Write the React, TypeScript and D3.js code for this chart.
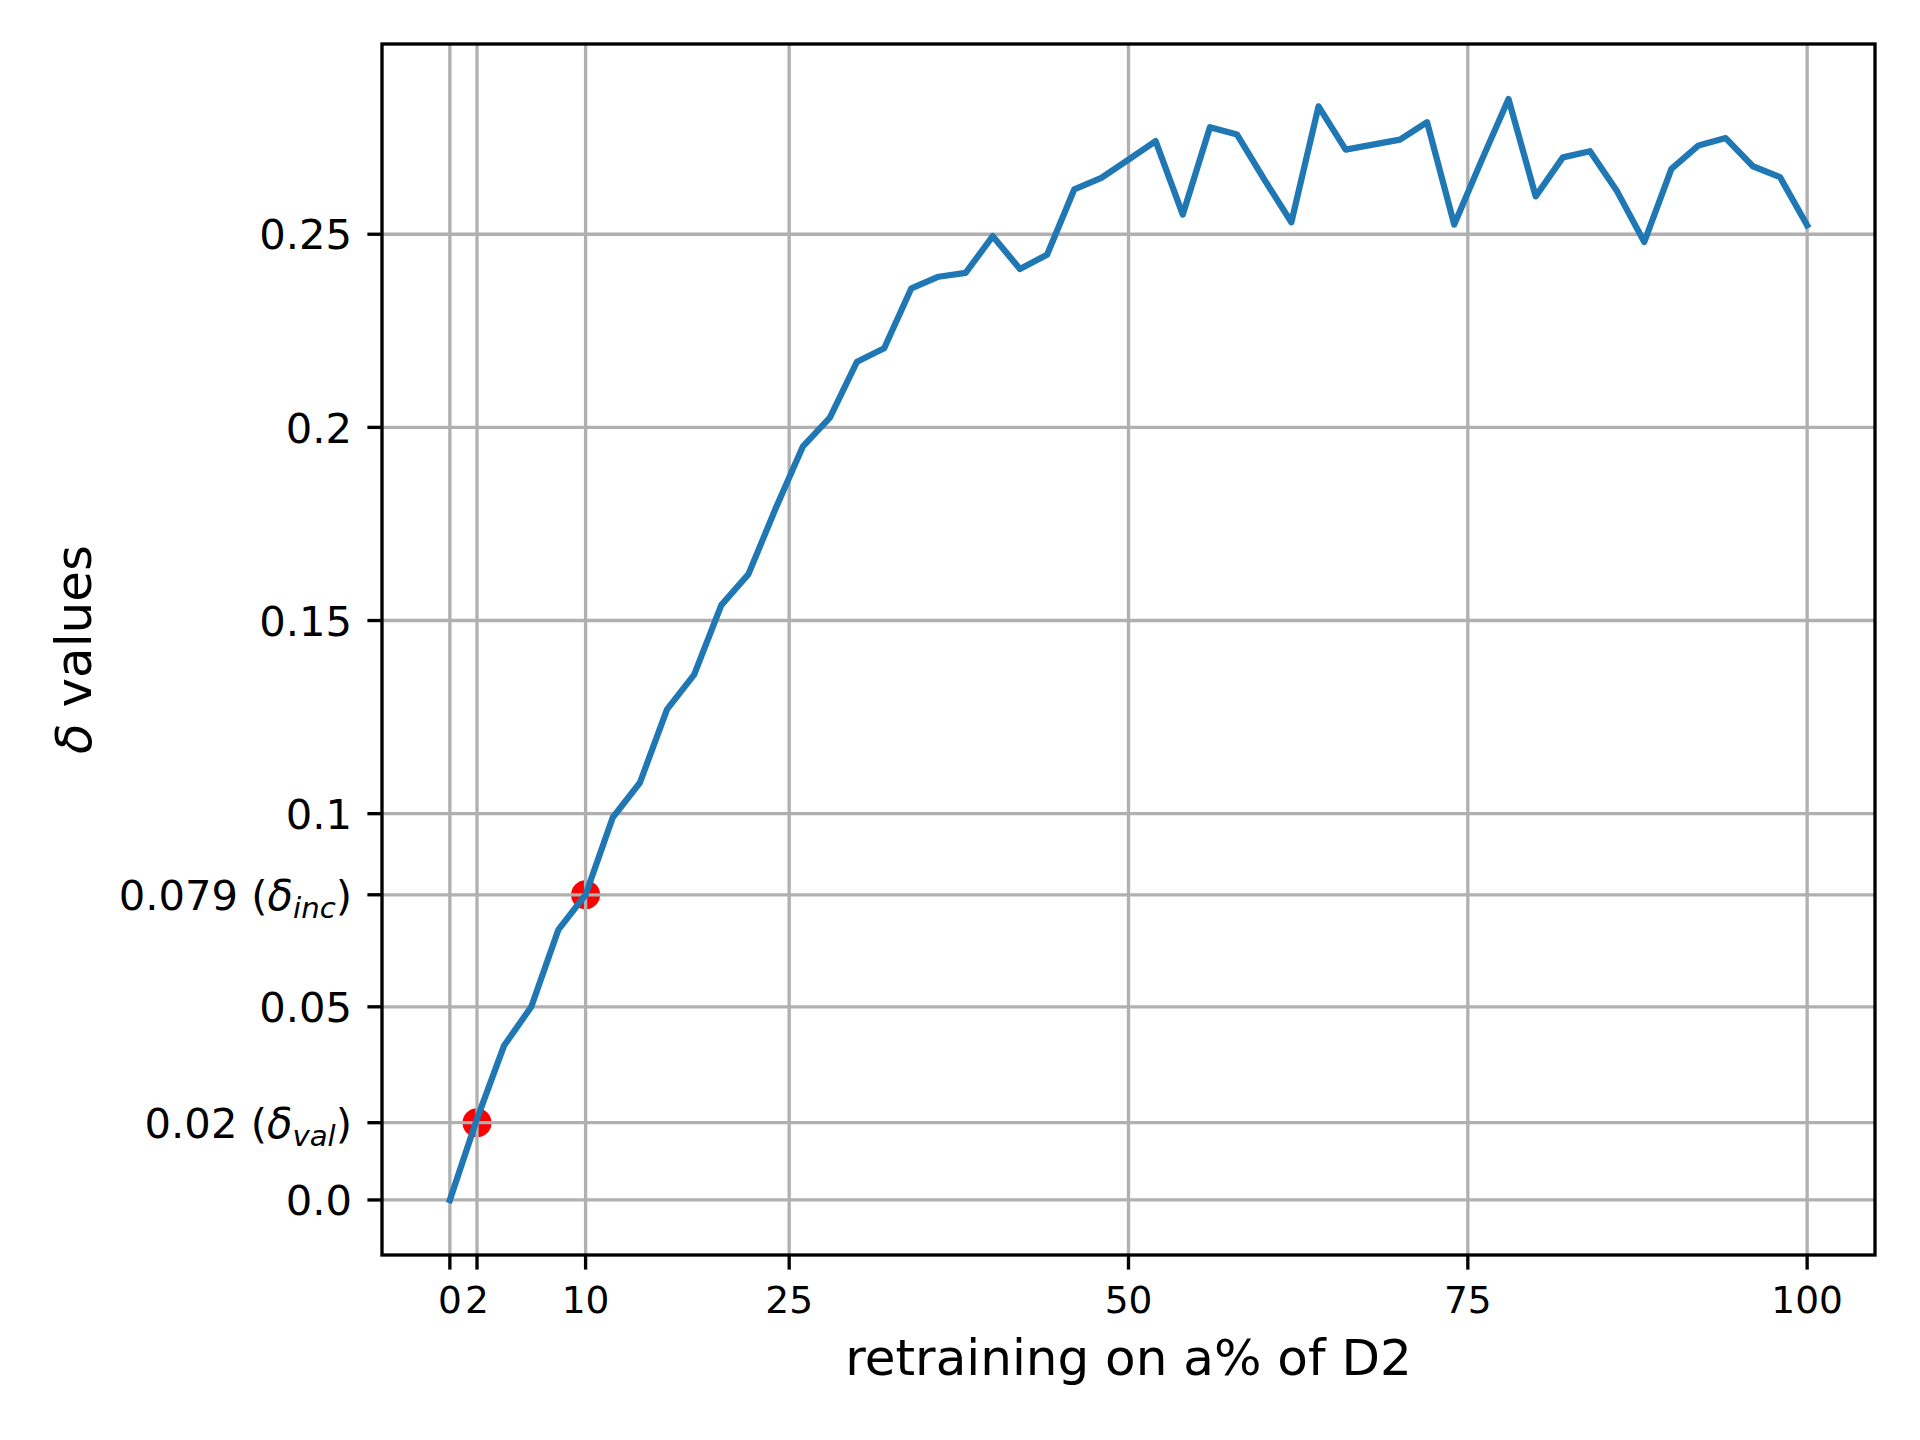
import * as d3 from "d3";

// percentage of D2 used for retraining
const percents = [
  0, 2, 4, 6, 8, 10, 12, 14, 16, 18, 20, 22, 24, 26, 28, 30, 32, 34, 36, 38, 40,
  42, 44, 46, 48, 50, 52, 54, 56, 58, 60, 62, 64, 66, 68, 70, 72, 74, 76, 78, 80,
  82, 84, 86, 88, 90, 92, 94, 96, 98, 100,
];
const deltas = [
  0, 0.021, 0.04, 0.05, 0.07, 0.079, 0.099, 0.108, 0.127, 0.136, 0.154, 0.162,
  0.179, 0.195, 0.2025, 0.217, 0.2205, 0.236, 0.239, 0.24, 0.2495, 0.241, 0.2447,
  0.2616, 0.2646, 0.2693, 0.2741, 0.2551, 0.2777, 0.2758, 0.2642, 0.2531, 0.2831,
  0.2719, 0.2732, 0.2745, 0.279, 0.2525, 0.269, 0.285, 0.2598, 0.2699, 0.2715,
  0.2611, 0.248, 0.2669, 0.273, 0.2749, 0.2676, 0.2648, 0.2523,
];
const markX = [2, 10];
const markY = [0.02, 0.079];
const xTicks = [0, 2, 10, 25, 50, 75, 100];
const yTicks = [0, 0.02, 0.05, 0.079, 0.1, 0.15, 0.2, 0.25];
const yTickText = ["0.0", "0.02", "0.05", "0.079", "0.1", "0.15", "0.2", "0.25"];
const ySubs: (string | null)[] = [null, "val", null, "inc", null, null, null, null];

const W = 1920;
const H = 1440;
const left = 382;
const right = 1875;
const top = 44;
const bottom = 1255;
const lw = 3.33;
const font = "DejaVu Sans";

function pad(ext: [number, number]): [number, number] {
  const m = (ext[1] - ext[0]) * 0.05;
  return [ext[0] - m, ext[1] + m];
}

export default function App() {
  const x = d3.scaleLinear(pad(d3.extent(percents) as [number, number]), [left, right]);
  const y = d3.scaleLinear(pad(d3.extent(deltas) as [number, number]), [bottom, top]);
  const line = d3
    .line<number>()
    .x((_d, i) => x(percents[i]))
    .y((d) => y(d));
  const fsY = 41.7;
  const fsX = 37.5;
  const fsL = 50;

  return (
    <svg
      width={W}
      height={H}
      style={{ position: "absolute", left: 0, top: 0, background: "#fff" }}
      fontFamily={font}
    >
      <rect width={W} height={H} fill="#fff" />
      {/* red markers for the chosen thresholds */}
      <g fill="red">
        {markX.map((m, i) => (
          <circle key={i} cx={x(m)} cy={y(markY[i])} r={14.5} />
        ))}
      </g>
      {/* grid */}
      <g stroke="#b0b0b0" strokeWidth={lw}>
        {xTicks.map((t) => (
          <line key={"gx" + t} x1={x(t)} x2={x(t)} y1={top} y2={bottom} />
        ))}
        {yTicks.map((t) => (
          <line key={"gy" + t} x1={left} x2={right} y1={y(t)} y2={y(t)} />
        ))}
      </g>
      <path d={line(deltas) || ""} fill="none" stroke="#1f77b4" strokeWidth={6.25} strokeLinejoin="round" strokeLinecap="square" />
      {/* ticks */}
      <g stroke="#000" strokeWidth={lw}>
        {xTicks.map((t) => (
          <line key={"tx" + t} x1={x(t)} x2={x(t)} y1={bottom} y2={bottom + 14.6} />
        ))}
        {yTicks.map((t) => (
          <line key={"ty" + t} x1={left - 14.6} x2={left} y1={y(t)} y2={y(t)} />
        ))}
      </g>
      <rect x={left} y={top} width={right - left} height={bottom - top} fill="none" stroke="#000" strokeWidth={lw} />
      {/* tick labels */}
      <g fontSize={fsX} textAnchor="middle" fill="#000">
        {xTicks.map((t) => (
          <text key={"lx" + t} x={x(t)} y={1313}>
            {t}
          </text>
        ))}
      </g>
      <g fontSize={fsY} textAnchor="end" fill="#000">
        {yTicks.map((t, i) => (
          <text key={"ly" + t} x={352} y={y(t) + fsY * 0.365}>
            {ySubs[i] ? (
              <>
                {yTickText[i] + " ("}
                <tspan fontStyle="italic">δ</tspan>
                <tspan fontStyle="italic" fontSize={fsY * 0.7} dy={fsY * 0.2}>
                  {ySubs[i]}
                </tspan>
                <tspan dy={-fsY * 0.2}>)</tspan>
              </>
            ) : (
              yTickText[i]
            )}
          </text>
        ))}
      </g>
      {/* axis labels */}
      <text x={(left + right) / 2} y={1375} fontSize={fsL} textAnchor="middle">
        retraining on a% of D2
      </text>
      <text transform={`translate(91,${(top + bottom) / 2}) rotate(-90)`} fontSize={fsL} textAnchor="middle">
        <tspan fontStyle="italic">δ</tspan> values
      </text>
    </svg>
  );
}
